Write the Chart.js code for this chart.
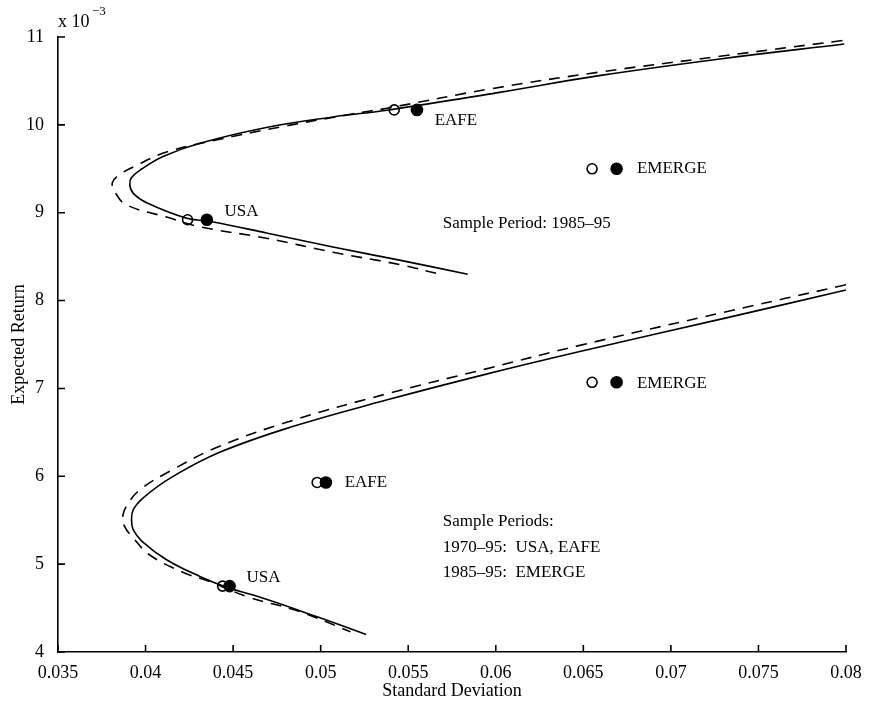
<!DOCTYPE html>
<html>
<head>
<meta charset="utf-8">
<script src="https://cdn.jsdelivr.net/npm/chart.js@4.4.1/dist/chart.umd.min.js"></script>
<style>
  html, body { margin: 0; padding: 0; background: #fff; }
  #wrap { width: 874px; height: 704px; }
</style>
</head>
<body>
<div id="wrap"><canvas id="frontier"></canvas></div>
<script>
// axis ticks
const xTicks = [0.035, 0.04, 0.045, 0.05, 0.055, 0.06, 0.065, 0.07, 0.075, 0.08];
const xTickLabels = ['0.035', '0.04', '0.045', '0.05', '0.055', '0.06', '0.065', '0.07', '0.075', '0.08'];
const yTicks = [4, 5, 6, 7, 8, 9, 10, 11];
const yTickLabels = ['4', '5', '6', '7', '8', '9', '10', '11'];

// 1985-95 frontier (solid) -- std dev / expected return (x 10^-3)
const upperSolidSd  = [0.0799, 0.0728, 0.0659, 0.0602, 0.0539, 0.0507, 0.0469, 0.0431, 0.0410, 0.0398, 0.0392, 0.0391, 0.0393, 0.0401, 0.0423, 0.0437, 0.0469, 0.0507, 0.0545, 0.0584];
const upperSolidRet = [10.92, 10.75, 10.56, 10.37, 10.17, 10.09, 9.97, 9.79, 9.64, 9.50, 9.40, 9.32, 9.22, 9.11, 8.94, 8.90, 8.77, 8.61, 8.46, 8.30];
// 1985-95 frontier (dashed)
const upperDashSd  = [0.0798, 0.0728, 0.0659, 0.0597, 0.0538, 0.0517, 0.0478, 0.0441, 0.0412, 0.0393, 0.0385, 0.0381, 0.0383, 0.0389, 0.0412, 0.0431, 0.0469, 0.0507, 0.0545, 0.0570];
const upperDashRet = [10.96, 10.78, 10.60, 10.41, 10.19, 10.12, 9.98, 9.83, 9.69, 9.52, 9.43, 9.34, 9.22, 9.09, 8.95, 8.84, 8.71, 8.55, 8.41, 8.29];

// 1970-95 frontier (solid)
const lowerSolidSd  = [0.0800, 0.0731, 0.0648, 0.0594, 0.0538, 0.0483, 0.0442, 0.0415, 0.0399, 0.0393, 0.0392, 0.0393, 0.0398, 0.0412, 0.0431, 0.0446, 0.0469, 0.0498, 0.0526];
const lowerSolidRet = [8.12, 7.80, 7.42, 7.16, 6.87, 6.56, 6.27, 5.99, 5.76, 5.62, 5.50, 5.39, 5.26, 5.05, 4.86, 4.74, 4.60, 4.40, 4.20];
// 1970-95 frontier (dashed)
const lowerDashSd  = [0.0800, 0.0731, 0.0648, 0.0594, 0.0538, 0.0483, 0.0442, 0.0415, 0.0397, 0.0390, 0.0387, 0.0388, 0.0393, 0.0402, 0.0421, 0.0437, 0.0458, 0.0488, 0.0517];
const lowerDashRet = [8.18, 7.87, 7.49, 7.22, 6.94, 6.63, 6.34, 6.07, 5.85, 5.69, 5.55, 5.43, 5.30, 5.11, 4.91, 4.80, 4.63, 4.46, 4.23];

// individual markets: USA, EAFE, EMERGE
const markets = ['USA', 'EAFE', 'EMERGE'];
const upperOpenSd   = [0.0424, 0.0542, 0.0655];
const upperFilledSd = [0.0435, 0.0555, 0.0669];
const upperRet      = [8.92, 10.17, 9.50];
const lowerOpenSd   = [0.0444, 0.0498, 0.0655];
const lowerFilledSd = [0.0448, 0.0503, 0.0669];
const lowerRet      = [4.75, 5.93, 7.07];

// text notes [text, sd, ret]
const notes = [
  ['USA', 0.04451, 9.01],
  ['EAFE', 0.05651, 10.05],
  ['EMERGE', 0.06806, 9.50],
  ['Sample Period: 1985\u201395', 0.05697, 8.88],
  ['EMERGE', 0.06806, 7.06],
  ['EAFE', 0.05137, 5.93],
  ['USA', 0.04577, 4.85],
  ['Sample Periods:', 0.05697, 5.48],
  ['1970\u201395:  USA, EAFE', 0.05697, 5.19],
  ['1985\u201395:  EMERGE', 0.05697, 4.91]
];

const pts = (xs, ys) => xs.map((x, i) => ({ x: x, y: ys[i] }));
const serif = '"Liberation Serif", "DejaVu Serif", serif';

function curve(xs, ys, dashed) {
  return {
    data: pts(xs, ys),
    showLine: true,
    borderColor: '#000',
    borderWidth: 1.6,
    borderDash: dashed ? [11, 8] : [],
    pointRadius: 0,
    tension: 0.4,
    fill: false
  };
}
function marks(xs, ys, filled) {
  return {
    data: pts(xs, ys),
    showLine: false,
    pointRadius: filled ? 5.5 : 5,
    pointBorderWidth: 1.6,
    pointBorderColor: '#000',
    pointBackgroundColor: filled ? '#000' : 'rgba(0,0,0,0)'
  };
}

// inward ticks, notes and the x 10^-3 exponent
const extras = {
  id: 'extras',
  afterDatasetsDraw(chart) {
    const { ctx, scales: { x, y }, chartArea } = chart;
    ctx.save();
    ctx.strokeStyle = '#000';
    ctx.lineWidth = 1.6;
    ctx.beginPath();
    xTicks.forEach(v => {
      const px = x.getPixelForValue(v);
      ctx.moveTo(px, chartArea.bottom);
      ctx.lineTo(px, chartArea.bottom - 7);
    });
    yTicks.forEach(v => {
      const py = y.getPixelForValue(v);
      ctx.moveTo(chartArea.left, py);
      ctx.lineTo(chartArea.left + 7, py);
    });
    ctx.stroke();

    ctx.fillStyle = '#000';
    ctx.font = '17px ' + serif;
    ctx.textBaseline = 'middle';
    ctx.textAlign = 'left';
    notes.forEach(n => {
      ctx.fillText(n[0], x.getPixelForValue(n[1]), y.getPixelForValue(n[2]));
    });

    ctx.font = '18px ' + serif;
    ctx.fillText('x 10', chartArea.left, chartArea.top - 15);
    ctx.font = '13px ' + serif;
    ctx.fillText('\u22123', chartArea.left + 34, chartArea.top - 25);
    ctx.restore();
  }
};

new Chart(document.getElementById('frontier'), {
  type: 'scatter',
  data: {
    datasets: [
      curve(upperSolidSd, upperSolidRet, false),
      curve(upperDashSd, upperDashRet, true),
      curve(lowerSolidSd, lowerSolidRet, false),
      curve(lowerDashSd, lowerDashRet, true),
      marks(upperOpenSd, upperRet, false),
      marks(upperFilledSd, upperRet, true),
      marks(lowerOpenSd, lowerRet, false),
      marks(lowerFilledSd, lowerRet, true)
    ]
  },
  options: {
    responsive: true,
    maintainAspectRatio: false,
    animation: false,
    layout: { padding: { left: 0, right: 28, top: 37, bottom: 0 } },
    plugins: { legend: { display: false }, tooltip: { enabled: false } },
    scales: {
      x: {
        type: 'linear',
        min: 0.035,
        max: 0.08,
        afterBuildTicks: s => { s.ticks = xTicks.map(v => ({ value: v })); },
        afterFit: s => { s.height = 52; },
        grid: { display: false },
        border: { display: true, color: '#000', width: 1.6 },
        ticks: {
          color: '#000',
          font: { family: serif, size: 18 },
          padding: 2,
          maxRotation: 0,
          callback: (v, i) => xTickLabels[i]
        },
        title: {
          display: true,
          text: 'Standard Deviation',
          color: '#000',
          font: { family: serif, size: 18 },
          padding: { top: 0, bottom: 2 }
        }
      },
      y: {
        type: 'linear',
        min: 4,
        max: 11,
        afterBuildTicks: s => { s.ticks = yTicks.map(v => ({ value: v })); },
        afterFit: s => { s.width = 58; },
        grid: { display: false },
        border: { display: true, color: '#000', width: 1.6 },
        ticks: {
          color: '#000',
          font: { family: serif, size: 18 },
          padding: 6,
          callback: (v, i) => yTickLabels[i]
        },
        title: {
          display: true,
          text: 'Expected Return',
          color: '#000',
          font: { family: serif, size: 18 },
          padding: { top: 8, bottom: 0 }
        }
      }
    }
  },
  plugins: [extras]
});
</script>
</body>
</html>
